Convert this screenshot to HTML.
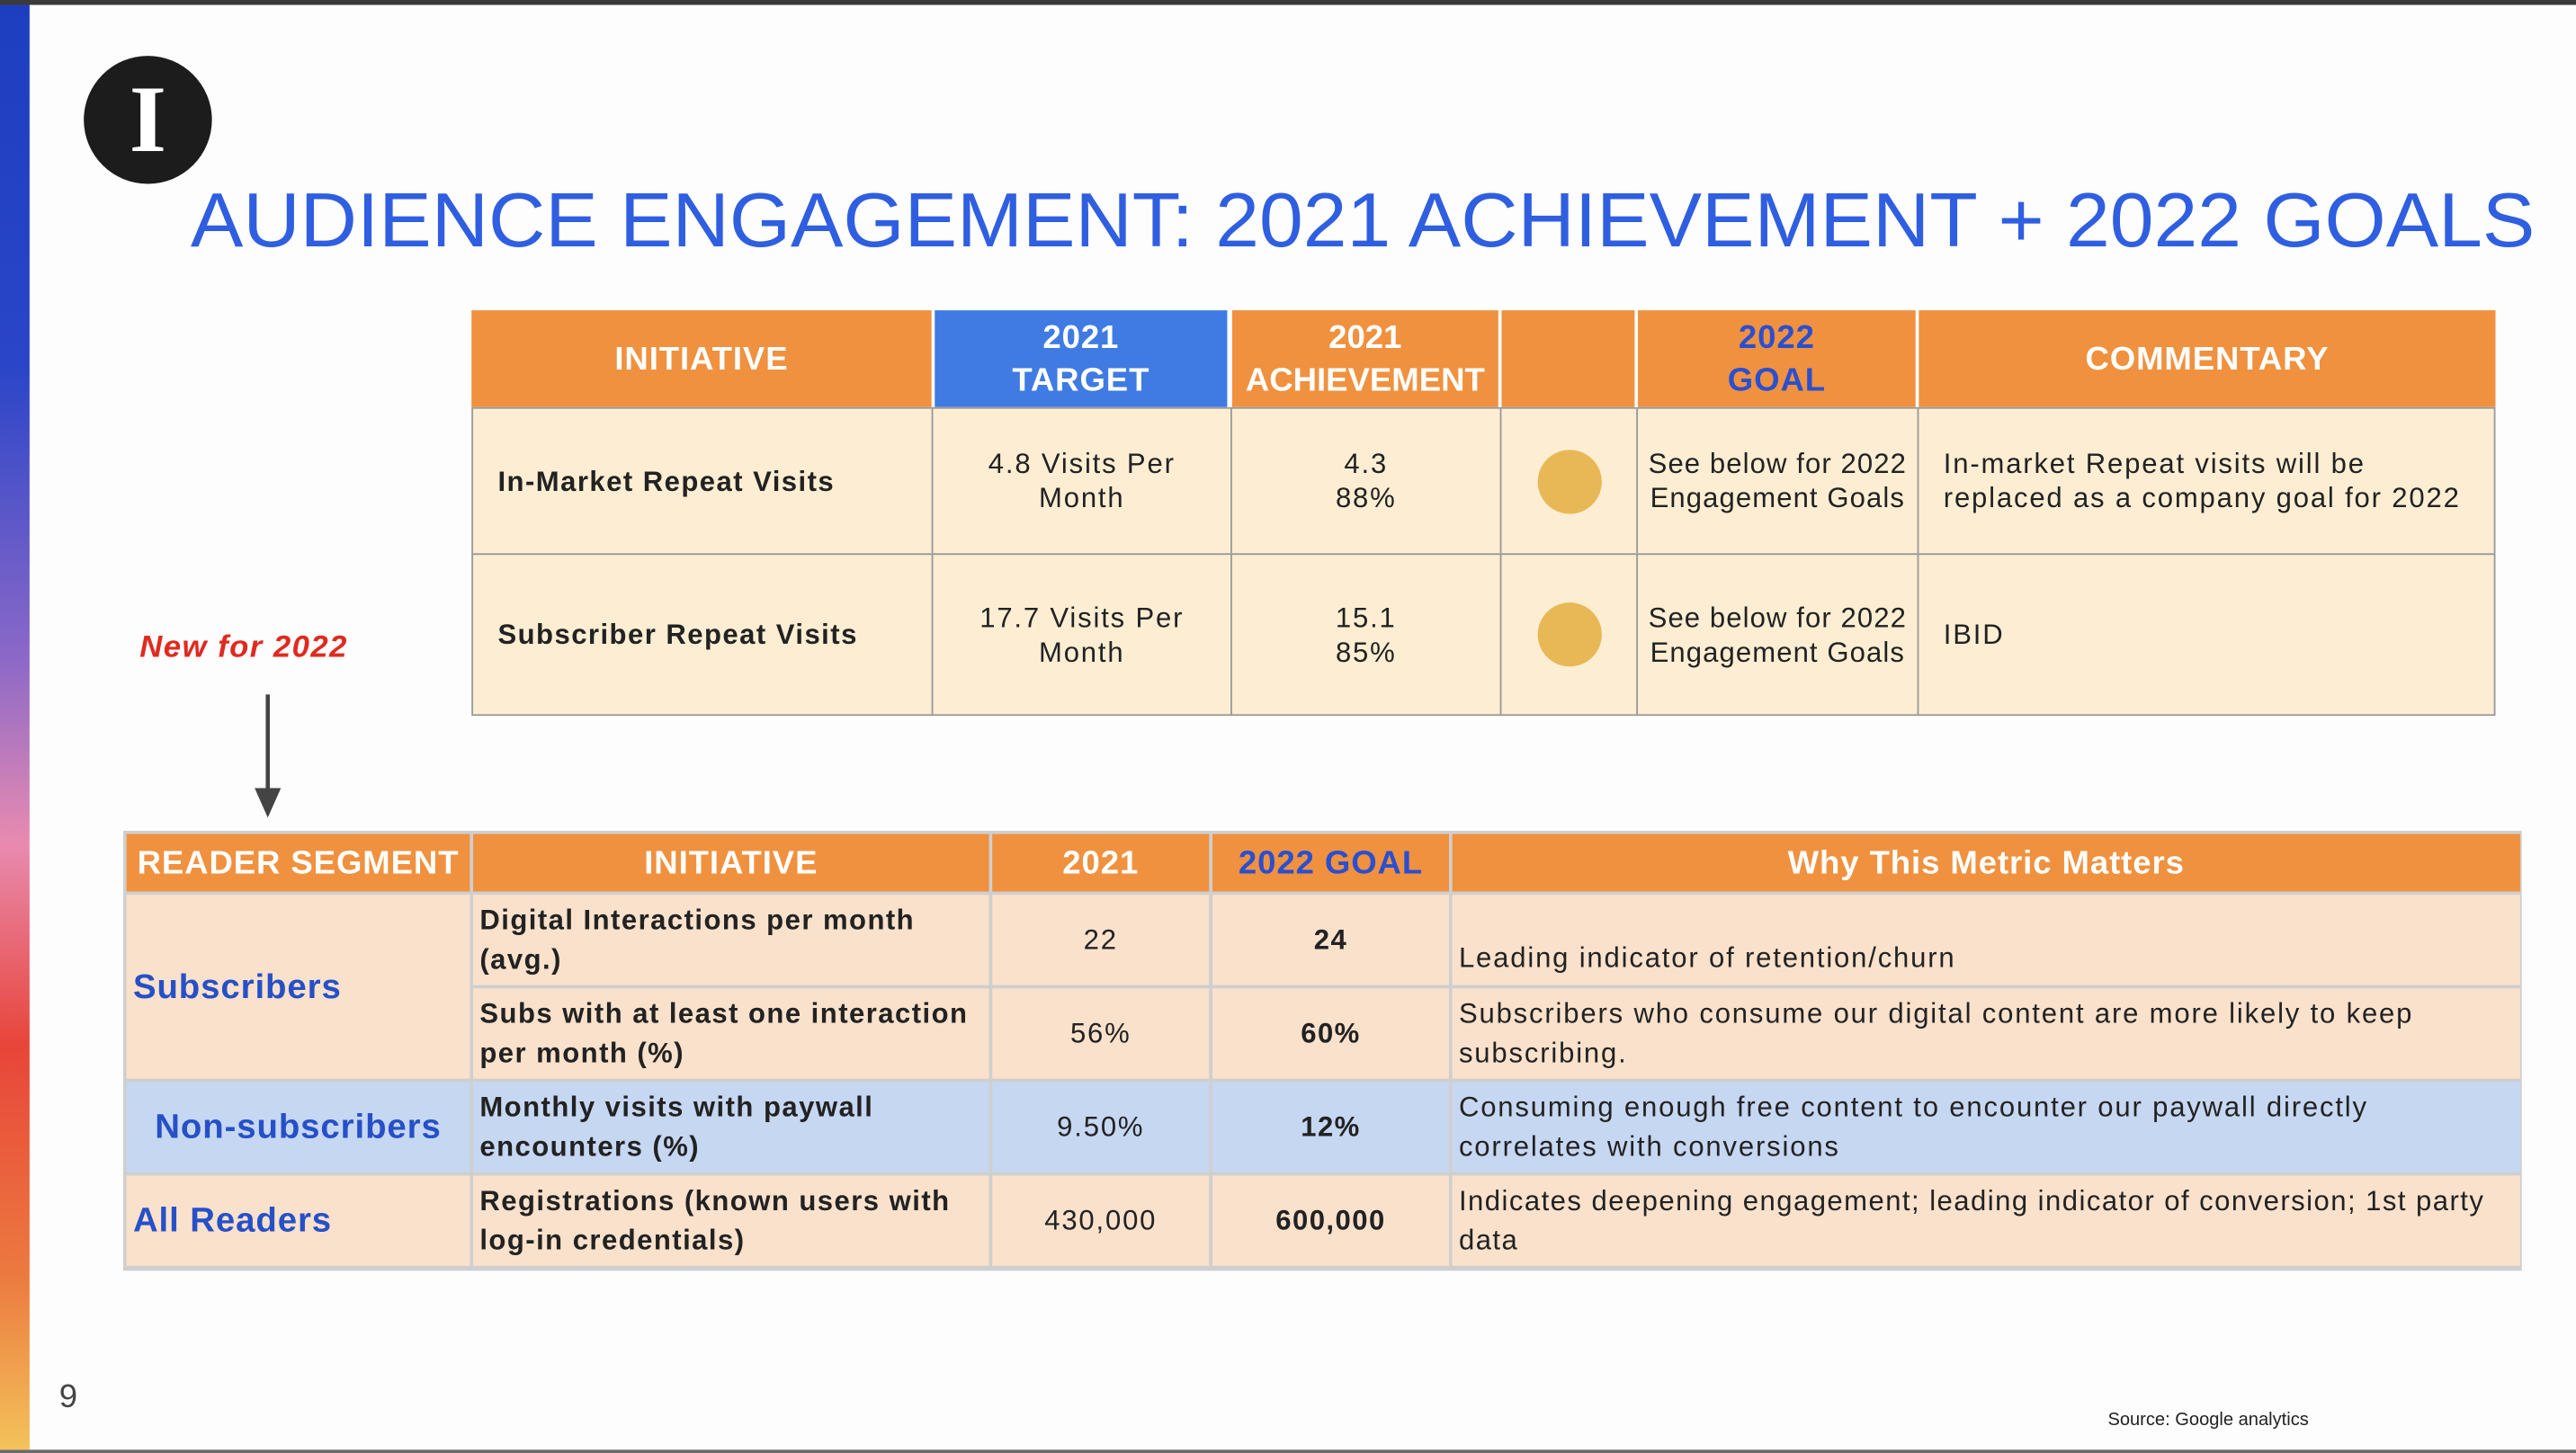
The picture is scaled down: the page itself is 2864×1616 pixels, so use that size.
<!DOCTYPE html>
<html><head><meta charset="utf-8">
<style>
html,body{margin:0;padding:0;background:#fff;overflow:hidden}
#root{position:absolute;left:0;top:0;width:1568px;height:885px;transform-origin:0 0;transform:scale(1.82653,1.82599);background:#fdfdfd;font-family:"Liberation Sans",sans-serif}
.a{position:absolute;box-sizing:border-box}
.c{position:absolute;box-sizing:border-box;display:flex;align-items:center;justify-content:center;text-align:center;color:#222;font-size:17px;line-height:21px;letter-spacing:1px;white-space:nowrap}
.h{background:#f0913f;color:#fff;font-weight:bold;font-size:20px;line-height:26px;letter-spacing:0.5px}
.t1{border:1.5px solid #9a9a9a;background:#fdeed3}
.t2{border:1.5px solid #cfcfcf;background:#f9e1cb}
.blu{background:#c6d7f2}
.l{justify-content:flex-start;text-align:left;padding-left:6px}
.b{font-weight:bold;letter-spacing:0.8px}
.seg{font-weight:bold;font-size:21px;color:#2650c8;letter-spacing:0.5px}
</style></head><body>
<div id="root">
<div class="a" style="left:0;top:0;width:1568px;height:3px;background:#3a3a3a"></div>
<div class="a" style="left:0;top:883px;width:1568px;height:2px;background:#6a6a6a"></div>
<div class="a" style="left:0;top:3px;width:18px;height:880px;background:linear-gradient(#1d3fbf 0%,#2a45c8 25%,#8a68c8 45%,#e88bb0 58%,#e8453a 72%,#ec7a40 88%,#f3c25a 100%)"></div>
<div class="a" style="left:51px;top:34px;width:78px;height:78px;border-radius:50%;background:#1c1c1c;color:#fff;font-family:'Liberation Serif',serif;font-weight:bold;font-size:58px;line-height:78px;text-align:center">I</div>
<svg class="a" style="left:0;top:100px" width="1568" height="60"><text x="116" y="50" textLength="1427" lengthAdjust="spacingAndGlyphs" font-family="Liberation Sans" font-size="47" fill="#2f5fe0">AUDIENCE ENGAGEMENT: 2021 ACHIEVEMENT + 2022 GOALS</text></svg>

<!-- top table -->
<div class="c h" style="left:287px;top:189px;width:280px;height:59px">INITIATIVE</div>
<div class="c h" style="left:569px;top:189px;width:178px;height:59px;background:#3f7be2">2021<br>TARGET</div>
<div class="c h" style="left:750px;top:189px;width:162px;height:59px;letter-spacing:0">2021<br>ACHIEVEMENT</div>
<div class="c h" style="left:914px;top:189px;width:81px;height:59px"></div>
<div class="c h" style="left:997px;top:189px;width:169px;height:59px;color:#2a4fd0">2022<br>GOAL</div>
<div class="c h" style="left:1168px;top:189px;width:351px;height:59px">COMMENTARY</div>

<div class="c t1 l b" style="left:287px;top:248px;width:281px;height:90px;padding-left:15px">In-Market Repeat Visits</div>
<div class="c t1" style="left:567px;top:248px;width:183px;height:90px">4.8 Visits Per<br>Month</div>
<div class="c t1" style="left:749px;top:248px;width:165px;height:90px">4.3<br>88%</div>
<div class="c t1" style="left:913px;top:248px;width:84px;height:90px"><div style="width:39px;height:39px;border-radius:50%;background:#e9b856"></div></div>
<div class="c t1" style="left:996px;top:248px;width:172px;height:90px;letter-spacing:0.6px">See below for 2022<br>Engagement Goals</div>
<div class="c t1 l" style="left:1167px;top:248px;width:352px;height:90px;padding-left:15px">In-market Repeat visits will be<br>replaced as a company goal for 2022</div>

<div class="c t1 l b" style="left:287px;top:337px;width:281px;height:99px;padding-left:15px">Subscriber Repeat Visits</div>
<div class="c t1" style="left:567px;top:337px;width:183px;height:99px">17.7 Visits Per<br>Month</div>
<div class="c t1" style="left:749px;top:337px;width:165px;height:99px">15.1<br>85%</div>
<div class="c t1" style="left:913px;top:337px;width:84px;height:99px"><div style="width:39px;height:39px;border-radius:50%;background:#e9b856"></div></div>
<div class="c t1" style="left:996px;top:337px;width:172px;height:99px;letter-spacing:0.6px">See below for 2022<br>Engagement Goals</div>
<div class="c t1 l" style="left:1167px;top:337px;width:352px;height:99px;padding-left:15px">IBID</div>

<div class="a" style="left:85px;top:384px;color:#e02a1f;font-weight:bold;font-style:italic;font-size:19px;letter-spacing:0.8px">New for 2022</div>
<svg class="a" style="left:150px;top:420px" width="28" height="80"><line x1="13" y1="3" x2="13" y2="64" stroke="#444" stroke-width="2.5"/><polygon points="5,60 21,60 13,78" fill="#444"/></svg>

<!-- bottom table -->
<div class="a" style="left:75px;top:506px;width:1460px;height:268px;background:#cfcfcf"></div>
<div class="c h" style="left:77px;top:508px;width:209px;height:35px">READER SEGMENT</div>
<div class="c h" style="left:288px;top:508px;width:314px;height:35px">INITIATIVE</div>
<div class="c h" style="left:604px;top:508px;width:132px;height:35px">2021</div>
<div class="c h" style="left:738px;top:508px;width:144px;height:35px;color:#2a4fd0">2022 GOAL</div>
<div class="c h" style="left:884px;top:508px;width:650px;height:35px">Why This Metric Matters</div>

<div class="c l seg" style="left:77px;top:545px;width:209px;height:112px;background:#f9e1cb;padding-left:4px">Subscribers</div>
<div class="c l b" style="left:288px;top:545px;width:314px;height:55px;background:#f9e1cb;padding-left:4px;line-height:24px">Digital Interactions per month<br>(avg.)</div>
<div class="c" style="left:604px;top:545px;width:132px;height:55px;background:#f9e1cb">22</div>
<div class="c b" style="left:738px;top:545px;width:144px;height:55px;background:#f9e1cb">24</div>
<div class="c l" style="left:884px;top:545px;width:650px;height:55px;background:#f9e1cb;align-items:flex-end;padding-bottom:6px;padding-left:4px">Leading indicator of retention/churn</div>

<div class="c l b" style="left:288px;top:602px;width:314px;height:55px;background:#f9e1cb;padding-left:4px;line-height:24px">Subs with at least one interaction<br>per month (%)</div>
<div class="c" style="left:604px;top:602px;width:132px;height:55px;background:#f9e1cb">56%</div>
<div class="c b" style="left:738px;top:602px;width:144px;height:55px;background:#f9e1cb">60%</div>
<div class="c l" style="left:884px;top:602px;width:650px;height:55px;background:#f9e1cb;padding-left:4px;line-height:24px">Subscribers who consume our digital content are more likely to keep<br>subscribing.</div>

<div class="c seg" style="left:77px;top:659px;width:209px;height:55px;background:#c6d7f2">Non-subscribers</div>
<div class="c l b" style="left:288px;top:659px;width:314px;height:55px;background:#c6d7f2;padding-left:4px;line-height:24px">Monthly visits with paywall<br>encounters (%)</div>
<div class="c" style="left:604px;top:659px;width:132px;height:55px;background:#c6d7f2">9.50%</div>
<div class="c b" style="left:738px;top:659px;width:144px;height:55px;background:#c6d7f2">12%</div>
<div class="c l" style="left:884px;top:659px;width:650px;height:55px;background:#c6d7f2;padding-left:4px;line-height:24px">Consuming enough free content to encounter our paywall directly<br>correlates with conversions</div>

<div class="c l seg" style="left:77px;top:716px;width:209px;height:55px;background:#f9e1cb;padding-left:4px">All Readers</div>
<div class="c l b" style="left:288px;top:716px;width:314px;height:55px;background:#f9e1cb;padding-left:4px;line-height:24px">Registrations (known users with<br>log-in credentials)</div>
<div class="c" style="left:604px;top:716px;width:132px;height:55px;background:#f9e1cb">430,000</div>
<div class="c b" style="left:738px;top:716px;width:144px;height:55px;background:#f9e1cb">600,000</div>
<div class="c l" style="left:884px;top:716px;width:650px;height:55px;background:#f9e1cb;padding-left:4px;line-height:24px;letter-spacing:0.8px">Indicates deepening engagement; leading indicator of conversion; 1st party<br>data</div>

<div class="a" style="left:36px;top:840px;font-size:20px;color:#444">9</div>
<div class="a" style="left:1283px;top:859px;font-size:11px;color:#222">Source: Google analytics</div>
</div>
</body></html>
